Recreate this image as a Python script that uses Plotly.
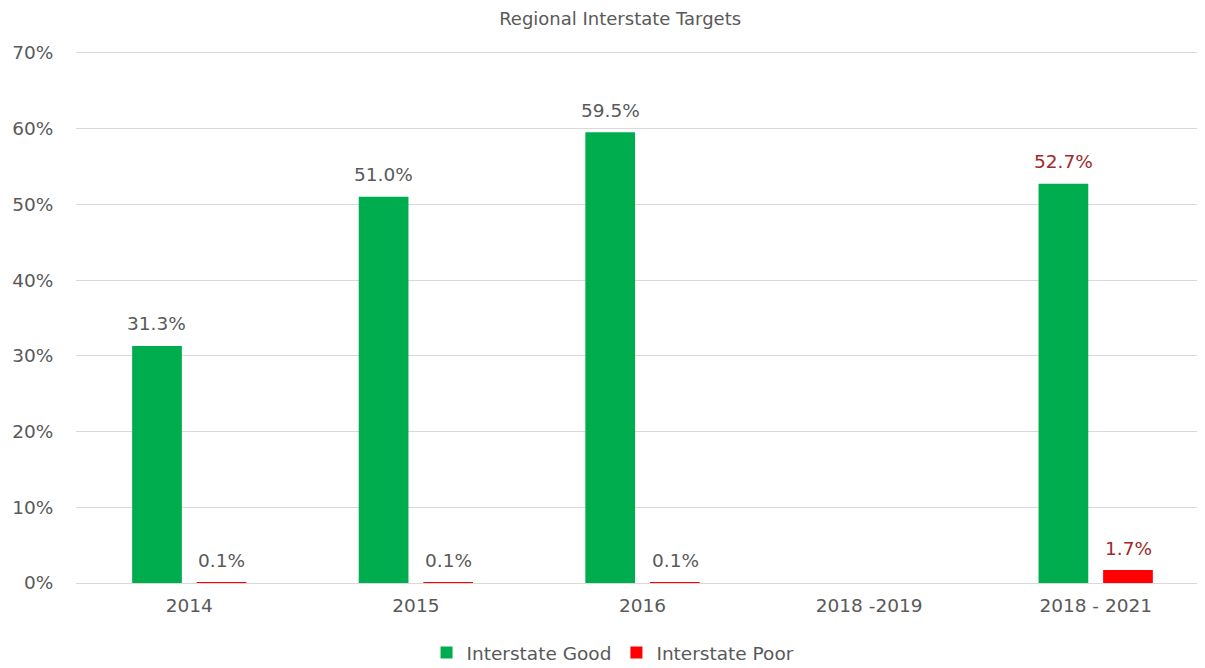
import plotly.graph_objects as go

categories = ["2014", "2015", "2016", "2018 -2019", "2018 - 2021"]
good = [0.313, 0.510, 0.595, None, 0.527]
poor = [0.001, 0.001, 0.001, None, 0.017]
good_labels = ["31.3%", "51.0%", "59.5%", "", "52.7%"]
poor_labels = ["0.1%", "0.1%", "0.1%", "", "1.7%"]
label_colors = ["#595959", "#595959", "#595959", "#595959", "#A0282A"]

GRAY = "#595959"
FONT = "DejaVu Sans, sans-serif"
FS = 18.5

fig = go.Figure()
fig.add_trace(go.Bar(
    x=categories, y=good, name="Interstate Good",
    marker=dict(color="#00AD4E", line=dict(width=0)),
))
fig.add_trace(go.Bar(
    x=categories, y=poor, name="Interstate Poor",
    marker=dict(color="#FF0000", line=dict(width=0)),
))

annotations = []
for series, labels, shift in ((good, good_labels, -32.5), (poor, poor_labels, 32.5)):
    for idx, (val, lab, col) in enumerate(zip(series, labels, label_colors)):
        if val is None:
            continue
        annotations.append(dict(
            x=idx, y=val, xref="x", yref="y", text=lab, showarrow=False,
            xshift=shift, yshift=22, yanchor="middle", xanchor="center",
            font=dict(family=FONT, size=FS, color=col),
        ))

fig.update_layout(
    width=1205, height=668,
    margin=dict(l=65, r=4, t=41, b=92),
    paper_bgcolor="white", plot_bgcolor="white",
    font=dict(family=FONT, color=GRAY, size=FS),
    title=dict(text="Regional Interstate Targets", x=0.508, xanchor="center",
               xref="container", yref="container",
               y=1 - 10.5 / 668, yanchor="middle", font=dict(size=18, color=GRAY)),
    barmode="group", bargap=0.43, bargroupgap=0.23,
    showlegend=True,
    legend=dict(orientation="h", x=0.474, xanchor="center", y=-0.131, yanchor="middle",
                font=dict(size=FS, color=GRAY), itemwidth=30,
                traceorder="normal"),
    annotations=annotations,
)
fig.update_yaxes(range=[0, 0.705], tickvals=[0, 0.1, 0.2, 0.3, 0.4, 0.5, 0.6, 0.7],
                 tickformat=".0%",
                 showgrid=True, gridcolor="#D9D9D9", gridwidth=1,
                 zeroline=True, zerolinecolor="#D9D9D9", zerolinewidth=1,
                 showline=False, ticks="outside", ticklen=18, tickcolor="rgba(0,0,0,0)",
                 tickfont=dict(size=FS, color=GRAY))
fig.update_xaxes(type="category", categoryorder="array", categoryarray=categories,
                 range=[-0.5, len(categories) - 0.5],
                 showline=False, ticks="outside", ticklen=6, tickcolor="rgba(0,0,0,0)",
                 tickfont=dict(size=FS, color=GRAY), showgrid=False)

fig.write_html("out.html")
